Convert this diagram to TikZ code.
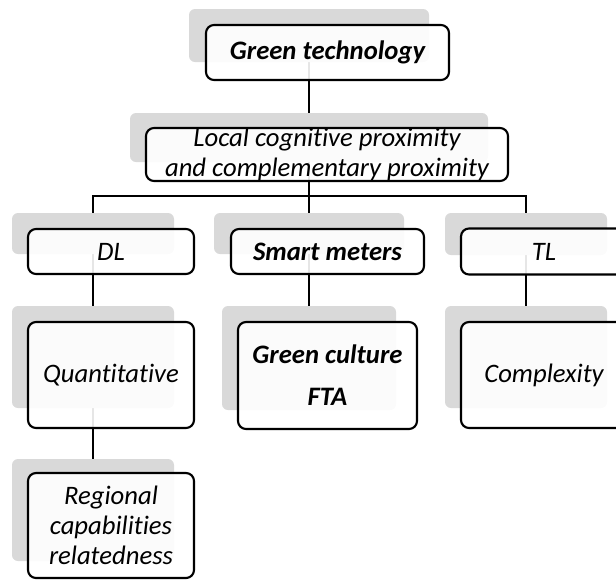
\documentclass[tikz,border=0pt]{standalone}
\usepackage{fontspec}
\setmainfont{Carlito}[Ligatures=NoCommon]
\usetikzlibrary{fit}
\pgfdeclarelayer{wires}
\pgfdeclarelayer{shades}
\pgfsetlayers{wires,shades,main}
\definecolor{shadegray}{HTML}{D9D9D9}

\begin{document}
\begin{tikzpicture}[x=0.75pt,y=-0.75pt,
  shadebox/.style={fill=shadegray, rounded corners=4.5pt, inner sep=0pt},
  card/.style={draw, line width=1.6pt, rounded corners=6pt, fill=white,
    fill opacity=0.9, text opacity=1, inner sep=0pt, align=center,
    font=\fontsize{20}{22.5}\selectfont\itshape},
  wire/.style={line width=1.5pt}]
\useasboundingbox (0,0) rectangle (616,579);
% Grey backing boxes
\begin{pgfonlayer}{shades}
\node[shadebox, fit={(189,9) (429,62)}] (gt-s) {};
\node[shadebox, fit={(130,113) (488,162)}] (lcp-s) {};
\node[shadebox, fit={(12,213) (174,254)}] (dl-s) {};
\node[shadebox, fit={(214,213) (404,254)}] (sm-s) {};
\node[shadebox, fit={(445,213) (607,255)}] (tl-s) {};
\node[shadebox, fit={(12,306) (174,408)}] (qt-s) {};
\node[shadebox, fit={(222,306) (396,410)}] (gc-s) {};
\node[shadebox, fit={(445,306) (607,408)}] (cx-s) {};
\node[shadebox, fit={(12,459) (174,561)}] (rc-s) {};
\end{pgfonlayer}
% Framed boxes with the labels
\node[card, minimum width=182.25pt, minimum height=41.25pt] (gt) at (327.5,52.5) {\textbf{Green technology}};
\node[card, minimum width=271.5pt, minimum height=39.75pt] (lcp) at (327,154.5) {Local cognitive proximity\\and complementary proximity};
\node[card, minimum width=124.5pt, minimum height=33.75pt] (dl) at (111,251.5) {DL};
\node[card, minimum width=144.75pt, minimum height=33.75pt] (sm) at (327.5,251.5) {\textbf{Smart meters}};
\node[card, minimum width=124.5pt, minimum height=34.5pt] (tl) at (544,251.5) {TL};
\node[card, minimum width=124.5pt, minimum height=79.5pt] (qt) at (111,375) {Quantitative};
\node[card, minimum width=134.25pt, minimum height=80.25pt] (gc) at (327.5,375.5) {\textbf{Green culture}\\[9pt]\textbf{FTA}};
\node[card, minimum width=124.5pt, minimum height=79.5pt] (cx) at (544,375) {Complexity};
\node[card, minimum width=124.5pt, minimum height=78.75pt] (rc) at (111,525.5) {Regional\\capabilities\\relatedness};
% Connectors, under everything else
\begin{pgfonlayer}{wires}
\coordinate (bus) at (309,196);
\draw[wire] (gt-s.center) -- (lcp-s.center);
\draw[wire] (lcp-s.center) -- (sm-s.center);
\draw[wire] (dl-s.center) |- (bus) -| (tl-s.center);
\draw[wire] (dl-s.center) -- (qt-s.center);
\draw[wire] (qt-s.center) -- (rc-s.center);
\draw[wire] (sm-s.center) -- (gc-s.center);
\draw[wire] (tl-s.center) -- (cx-s.center);
\end{pgfonlayer}
\end{tikzpicture}
\end{document}
